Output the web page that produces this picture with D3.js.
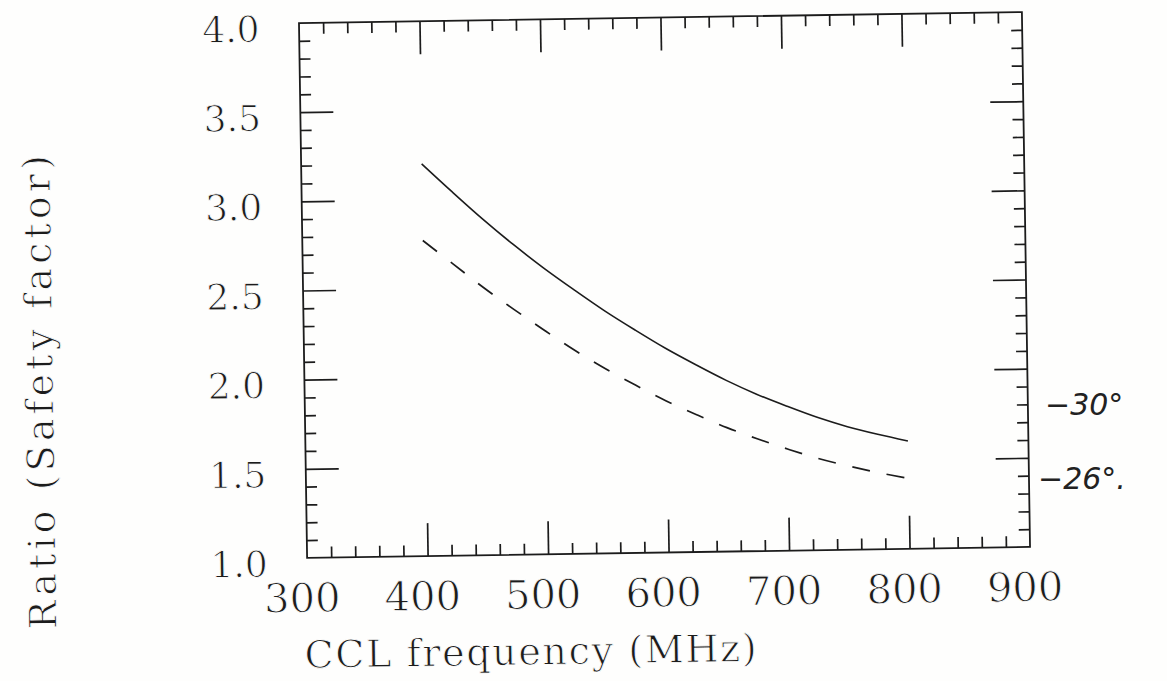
<!DOCTYPE html>
<html>
<head>
<meta charset="utf-8">
<script src="https://cdn.jsdelivr.net/npm/d3@7"></script>
<style>
  html, body { margin: 0; padding: 0; background: #fefefd; }
  svg { display: block; }
</style>
</head>
<body>
<svg id="chart" width="1167" height="681"></svg>
<script>
// ---- data ----
const freqs = [400, 425, 450, 475, 500, 525, 550, 575, 600, 625, 650, 675, 700, 725, 750, 775, 800];
const solidRatio = [3.20, 3.04, 2.885, 2.74, 2.605, 2.48, 2.36, 2.25, 2.145, 2.05, 1.96, 1.88, 1.81, 1.745, 1.69, 1.645, 1.605];
const dashedRatio = [2.77, 2.635, 2.50, 2.375, 2.255, 2.14, 2.035, 1.94, 1.85, 1.77, 1.695, 1.63, 1.57, 1.515, 1.47, 1.43, 1.395];
const xTickLabels = [300, 400, 500, 600, 700, 800, 900];
const yTickLabels = [1.0, 1.5, 2.0, 2.5, 3.0, 3.5, 4.0];
const xMinorTicks = d3.range(320, 900, 20).filter(v => v % 100 !== 0);
const xMajorTicks = [400, 500, 600, 700, 800];
const yMinorTicks = d3.range(11, 40, 1).map(v => v / 10).filter(v => Math.round(v * 10) % 5 !== 0);
const yMajorTicks = [1.5, 2.0, 2.5, 3.0, 3.5];
const xTitle = "CCL frequency (MHz)";
const yTitle = "Ratio (Safety factor)";
const notes = ["\u221230\u00B0", "\u221226\u00B0."];

// ---- layout ----
const L = 303, R = 1026, T = 17.5, B = 552.5;
const ink = "#1c1c1c";
const paper = "#fefefd";
const serif = "'DejaVu Serif', serif";

const svg = d3.select("#chart");
const x = d3.scaleLinear().domain([300, 900]).range([L, R]);
const y = d3.scaleLinear().domain([1, 4]).range([B, T]);

// the scanned page is slightly rotated
const g = svg.append("g").attr("transform", "rotate(-0.87 664.5 284.75)");

function styleAxis(sel) {
  sel.select(".domain").remove();
  sel.selectAll(".tick line").attr("stroke", ink).attr("stroke-width", 1.7);
  sel.selectAll("text").remove();
}
function thinText(sel) {
  sel.attr("font-family", serif).attr("fill", ink)
    .attr("stroke", paper).attr("stroke-width", 0.9).attr("paint-order", "normal");
}

// bottom
g.append("g").attr("transform", `translate(0,${B})`)
  .call(d3.axisBottom(x).tickValues(xMajorTicks).tickSize(-33)).call(styleAxis);
g.append("g").attr("transform", `translate(0,${B})`)
  .call(d3.axisBottom(x).tickValues(xMinorTicks).tickSize(-11)).call(styleAxis);
// top
g.append("g").attr("transform", `translate(0,${T})`)
  .call(d3.axisTop(x).tickValues(xMajorTicks).tickSize(-33)).call(styleAxis);
g.append("g").attr("transform", `translate(0,${T})`)
  .call(d3.axisTop(x).tickValues(xMinorTicks).tickSize(-11)).call(styleAxis);
// left
g.append("g").attr("transform", `translate(${L},0)`)
  .call(d3.axisLeft(y).tickValues(yMajorTicks).tickSize(-33)).call(styleAxis);
g.append("g").attr("transform", `translate(${L},0)`)
  .call(d3.axisLeft(y).tickValues(yMinorTicks).tickSize(-11)).call(styleAxis);
// right
g.append("g").attr("transform", `translate(${R},0)`)
  .call(d3.axisRight(y).tickValues(yMajorTicks).tickSize(-33)).call(styleAxis);
g.append("g").attr("transform", `translate(${R},0)`)
  .call(d3.axisRight(y).tickValues(yMinorTicks).tickSize(-11)).call(styleAxis);

// frame
g.append("rect").attr("x", L).attr("y", T).attr("width", R - L).attr("height", B - T)
  .attr("fill", "none").attr("stroke", ink).attr("stroke-width", 1.8);

// tick labels
const xl = g.append("g").attr("transform", `translate(0,${B})`)
  .call(d3.axisBottom(x).tickValues(xTickLabels).tickSize(0).tickFormat(d3.format("d")));
xl.select(".domain").remove();
xl.selectAll("text").attr("y", 54).attr("dy", null).attr("dx", -6)
  .attr("font-size", 40).call(thinText);

const yl = g.append("g").attr("transform", `translate(${L},0)`)
  .call(d3.axisLeft(y).tickValues(yTickLabels).tickSize(0).tickFormat(d3.format(".1f")));
yl.select(".domain").remove();
yl.selectAll("text").attr("x", -39.5).attr("dy", null).attr("y", 17.5)
  .attr("text-anchor", "end").attr("font-size", 36).call(thinText);

// axis titles
g.append("text").attr("x", 525).attr("y", 662.5).attr("text-anchor", "middle")
  .attr("font-size", 38).call(thinText)
  .attr("textLength", 452).attr("lengthAdjust", "spacing").text(xTitle);
g.append("text").attr("transform", "translate(51.4,382.7) rotate(-90)")
  .attr("text-anchor", "middle").attr("font-size", 38).call(thinText)
  .attr("textLength", 474).attr("lengthAdjust", "spacing").text(yTitle);

// curves
const line = d3.line().x((d, i) => x(freqs[i])).y(d => y(d)).curve(d3.curveCatmullRom);
g.append("path").datum(solidRatio).attr("d", line)
  .attr("fill", "none").attr("stroke", ink).attr("stroke-width", 1.6);
g.append("path").datum(dashedRatio).attr("d", line)
  .attr("fill", "none").attr("stroke", ink).attr("stroke-width", 1.7)
  .attr("stroke-dasharray", "18,17");

// handwritten notes (not part of the rotated print)
svg.append("text").attr("x", 1045).attr("y", 415)
  .attr("font-family", "'DejaVu Sans', sans-serif").attr("font-weight", 200)
  .attr("font-style", "italic").attr("font-size", 30).attr("fill", "#222").text(notes[0]);
svg.append("text").attr("x", 1038).attr("y", 489)
  .attr("font-family", "'DejaVu Sans', sans-serif").attr("font-weight", 200)
  .attr("font-style", "italic").attr("font-size", 30).attr("fill", "#222").text(notes[1]);
</script>
</body>
</html>
